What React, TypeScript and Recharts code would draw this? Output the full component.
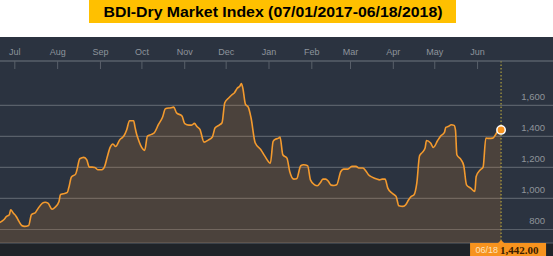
import React from 'react';
import {
  ComposedChart,
  Area,
  XAxis,
  YAxis,
  CartesianGrid,
  ReferenceLine,
  ReferenceDot,
} from 'recharts';

// Days counted from 1 Jul 2017
const daysFromJul1 = [
  -11, -8, -6, -4, -3, -1, 1, 3, 5, 7, 10, 12, 15, 17, 20, 22, 24, 27, 29, 32,
  33, 35, 38, 39, 41, 44, 45, 47, 50, 52, 54, 56, 58, 60, 63, 65, 67, 69, 71, 73,
  76, 78, 79, 81, 83, 86, 87, 88, 89, 91, 94, 96, 99, 101, 104, 107, 109, 113, 115, 117,
  121, 123, 126, 128, 130, 132, 134, 137, 140, 143, 145, 148, 150, 152, 155, 157, 159, 161, 163, 164,
  165, 167, 169, 171, 174, 178, 181, 185, 187, 189, 191, 192, 194, 197, 199, 202, 204, 207, 209, 212,
  214, 217, 219, 221, 223, 225, 227, 229, 231, 233, 236, 238, 241, 244, 247, 249, 252, 254, 256, 259,
  262, 264, 266, 268, 270, 273, 276, 278, 281, 283, 285, 287, 289, 291, 293, 295, 297, 298, 301, 303,
  306, 308, 311, 312, 314, 316, 318, 319, 320, 323, 325, 327, 330, 333, 334, 337, 339, 341, 343, 346,
  348, 350, 352,
];

const bdiValues = [
  845, 863, 884, 895, 927, 905, 884, 852, 826, 820, 826, 895, 910, 938, 970, 976, 970, 931, 942, 981,
  1024, 1030, 1039, 1067, 1138, 1157, 1185, 1256, 1265, 1250, 1202, 1202, 1200, 1185, 1185, 1206, 1271, 1329, 1351, 1335,
  1379, 1394, 1404, 1443, 1501, 1501, 1460, 1420, 1391, 1344, 1310, 1402, 1413, 1424, 1477, 1525, 1578, 1585, 1589, 1553,
  1531, 1482, 1473, 1473, 1484, 1462, 1445, 1363, 1376, 1396, 1456, 1473, 1488, 1617, 1649, 1667, 1682, 1710, 1725, 1740,
  1714, 1606, 1589, 1520, 1359, 1316, 1273, 1228, 1368, 1383, 1389, 1396, 1282, 1260, 1174, 1125, 1127, 1211, 1217, 1211,
  1120, 1088, 1082, 1099, 1125, 1125, 1110, 1086, 1084, 1088, 1174, 1189, 1189, 1207, 1207, 1196, 1196, 1179, 1153, 1136,
  1125, 1120, 1125, 1125, 1067, 1035, 1013, 953, 949, 960, 990, 1013, 1024, 1099, 1275, 1297, 1325, 1374, 1357, 1329,
  1372, 1400, 1426, 1458, 1465, 1475, 1471, 1440, 1282, 1250, 1211, 1088, 1067, 1045, 1142, 1185, 1202, 1389, 1387, 1389,
  1411, 1439, 1442,
];

const monthTickDays = [0, 31, 62, 92, 123, 153, 184, 215, 243, 274, 304, 335];
const monthLabels = ['Jul', 'Aug', 'Sep', 'Oct', 'Nov', 'Dec', 'Jan', 'Feb', 'Mar', 'Apr', 'May', 'Jun'];
const yTicks = [800, 1000, 1200, 1400, 1600];

const lastDay = 352;
const lastValue = 1442;
const lastDateLabel = '06/18';
const lastValueLabel = '1,442.00';
const titleText = 'BDI-Dry Market Index (07/01/2017-06/18/2018)';

const data = daysFromJul1.map((d, i) => ({ d, v: bdiValues[i] }));

const CHART_W = 553;
const BG = '#2b3340';
const GRID = '#59606a';
const ORANGE = '#f39a2e';

const MonthTick = (props: any) => {
  const { x, y, payload } = props;
  const idx = monthTickDays.indexOf(payload.value);
  return (
    <g>
      <line x1={x} x2={x} y1={y} y2={y + 8} stroke={GRID} strokeWidth={1} />
      <text
        x={x}
        y={y - 6.5}
        textAnchor="middle"
        fill="#8e949c"
        fontSize={9}
        fontFamily="'Liberation Sans', Arial, sans-serif"
      >
        {idx >= 0 ? monthLabels[idx] : ''}
      </text>
    </g>
  );
};

const ValueTick = (props: any) => {
  const { y, payload } = props;
  return (
    <text
      x={CHART_W - 8}
      y={y - 5.5}
      textAnchor="end"
      fill="#8e939a"
      fontSize={9.5}
      fontFamily="'Liberation Sans', Arial, sans-serif"
    >
      {Number(payload.value).toLocaleString('en-US')}
    </text>
  );
};

const Badge = (props: any) => {
  const { viewBox } = props;
  if (!viewBox) return null;
  const cx = viewBox.x;
  const bottom = viewBox.y + viewBox.height;
  return (
    <g>
      <polygon points={`${cx - 3.5},${bottom + 0.5} ${cx + 3.5},${bottom + 0.5} ${cx},${bottom - 3}`} fill="#f7931e" />
      <rect x={cx - 31} y={bottom} width={76} height={13} fill="#f7931e" />
      <text
        x={cx - 25.5}
        y={bottom + 10}
        fill="#fde2bd"
        fontSize={9}
        fontFamily="'Liberation Sans', Arial, sans-serif"
      >
        {lastDateLabel}
      </text>
      <text
        x={cx - 1}
        y={bottom + 10.5}
        fill="#3a1c00"
        fontSize={11}
        fontWeight="bold"
        fontFamily="'Liberation Serif', serif"
      >
        {lastValueLabel}
      </text>
    </g>
  );
};

export default function App() {
  return (
    <div style={{ position: 'absolute', left: 0, top: 0, width: 553, height: 256, background: '#ffffff' }}>
      <div
        style={{
          position: 'absolute',
          left: 89,
          top: 0,
          width: 367,
          height: 23,
          background: '#ffc000',
        }}
      >
        <svg width={367} height={23} style={{ display: 'block' }}>
          <text
            x={184}
            y={17}
            textAnchor="middle"
            fontSize={15}
            fontWeight="bold"
            fill="#000000"
            fontFamily="'Liberation Sans', Arial, sans-serif"
            textLength={339}
            lengthAdjust="spacingAndGlyphs"
          >
            {titleText}
          </text>
        </svg>
      </div>
      <div style={{ position: 'absolute', left: 0, top: 37, width: 553, height: 219, background: BG }} />
      <div style={{ position: 'absolute', left: 0, top: 243, width: 553, height: 13, background: '#1f2328' }} />
      <div style={{ position: 'absolute', left: 0, top: 37 }}>
        <ComposedChart
          width={CHART_W}
          height={219}
          data={data}
          margin={{ top: 0, right: 0, bottom: 13, left: 0 }}
        >
          <CartesianGrid horizontal vertical={false} stroke={GRID} strokeWidth={1.2} />
          <XAxis
            dataKey="d"
            type="number"
            orientation="top"
            height={24}
            domain={[-10.73, 389.6]}
            ticks={monthTickDays}
            interval={0}
            allowDataOverflow
            axisLine={{ stroke: GRID, strokeWidth: 1.2 }}
            tickLine={false}
            tickSize={0}
            tickMargin={0}
            tick={<MonthTick />}
          />
          <YAxis
            orientation="right"
            mirror
            width={1}
            domain={[713, 1886]}
            ticks={yTicks}
            interval={0}
            allowDataOverflow
            axisLine={false}
            tickLine={false}
            tick={<ValueTick />}
          />
          <Area
            type="monotone"
            dataKey="v"
            stroke={ORANGE}
            strokeWidth={1.6}
            fill="#f08c28"
            fillOpacity={0.17}
            isAnimationActive={false}
            dot={false}
            activeDot={false}
          />
          <ReferenceLine
            x={lastDay}
            stroke="#c9b43c"
            strokeWidth={1}
            strokeDasharray="1.5 2"
            label={<Badge />}
          />
          <ReferenceDot
            x={lastDay}
            y={lastValue}
            r={4.2}
            fill="#f7931e"
            stroke="#ffffff"
            strokeWidth={1.5}
          />
        </ComposedChart>
      </div>
    </div>
  );
}
